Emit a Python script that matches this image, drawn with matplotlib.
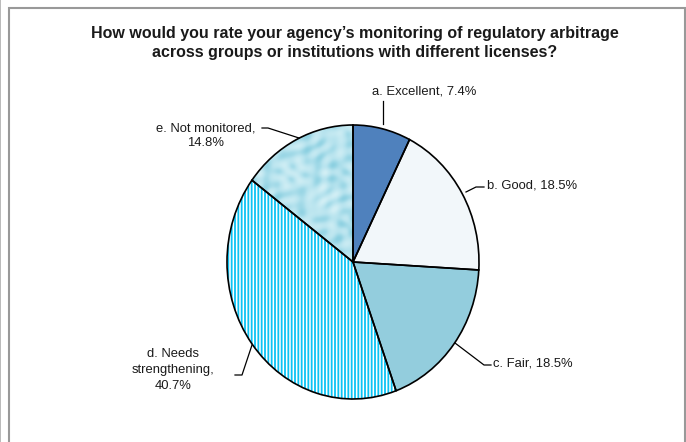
import numpy as np
import matplotlib.pyplot as plt
from matplotlib.patches import Rectangle
from matplotlib.colors import LinearSegmentedColormap

plt.rcParams['font.family'] = ['Liberation Sans', 'DejaVu Sans']
plt.rcParams['hatch.linewidth'] = 1.3

title = ("How would you rate your agency\u2019s monitoring of regulatory arbitrage\n"
         "across groups or institutions with different licenses?")
categories = ['a. Excellent', 'b. Good', 'c. Fair', 'd. Needs\nstrengthening',
              'e. Not monitored']
shares = [7.4, 18.5, 18.5, 40.7, 14.8]
colors = ['#4F81BD', '#F2F7FA', '#93CDDD', '#FFFFFF', '#B9E5EF']

W, H = 686, 442
fig = plt.figure(figsize=(W / 100, H / 100), dpi=100)

# pie box in pixels: centre (353, 262), radii 126 x 137
cx, cy, rx, ry = 353, 262, 126, 137
ax = fig.add_axes([(cx - rx) / W, (H - cy - ry) / H, 2 * rx / W, 2 * ry / H])
ax.axis('off')

wedges, _ = ax.pie(shares, colors=colors, startangle=90, counterclock=False,
                   radius=1, wedgeprops=dict(linewidth=0))

# vertical stripes for "needs strengthening"
wd = wedges[3]
wd.set_facecolor('white')
wd.set_edgecolor('#0BC3F3')
wd.set_hatch('|' * 5)
wd.set_linewidth(0)

# bubbly texture for "not monitored"
xs = np.linspace(-1, 1, 300)
X, Y = np.meshgrid(xs, xs)
tex = (np.sin(X * 23 + np.cos(Y * 17) * 2.0) * np.cos(Y * 29 + np.sin(X * 13) * 1.7)
       + 0.6 * np.sin(X * 41 - Y * 37) * np.cos(X * 19 + Y * 31))
tex = np.clip(tex, -1.5, 1.5)
cmap = LinearSegmentedColormap.from_list('water', ['#8CD0E1', '#B6E3EE', '#D2EFF5'])
img = ax.imshow(tex, extent=(-1, 1, -1, 1), cmap=cmap, origin='lower',
                interpolation='bilinear', aspect='auto', zorder=1.5)
img.set_clip_path(wedges[4])

# outlines on top
outline, _ = ax.pie(shares, colors=['none'] * 5, startangle=90, counterclock=False,
                    radius=1, wedgeprops=dict(linewidth=1.2, edgecolor='black',
                                              fill=False, zorder=3))
ax.set_xlim(-1, 1)
ax.set_ylim(-1, 1)
ax.set_aspect('auto')


def px(x, y):
    return (x - cx) / rx, (cy - y) / ry


def leader(points):
    pts = [px(x, y) for x, y in points]
    ax.plot([p[0] for p in pts], [p[1] for p in pts], color='black', lw=0.9,
            clip_on=False, zorder=4)


labels = [f'{c}, {v}%' for c, v in zip(categories, shares)]
fs = 9.4
tc = '#1a1a1a'

leader([(383, 124), (383, 101)])
ax.text(*px(372, 92), labels[0], fontsize=fs, ha='left', va='center', color=tc)

leader([(466, 192), (476, 187), (484, 187)])
ax.text(*px(487, 185), labels[1], fontsize=fs, ha='left', va='center', color=tc)

leader([(455, 343), (484, 365), (491, 365)])
ax.text(*px(493, 364), labels[2], fontsize=fs, ha='left', va='center', color=tc)

leader([(252, 345), (242, 375), (235, 375)])
ax.text(*px(173, 370), labels[3].replace(', ', ',\n'), fontsize=fs,
        ha='center', va='center', linespacing=1.45, color=tc)

leader([(299, 138), (268, 128), (262, 128)])
ax.text(*px(206, 136), labels[4].replace(', ', ',\n'), fontsize=fs,
        ha='center', va='center', linespacing=1.3, color=tc)

fig.text(355 / W, 1 - 43 / H, title, ha='center', va='center', fontsize=11.5,
         fontweight='bold', linespacing=1.3, color=tc)

# chart frame
fig.patches.append(Rectangle((9 / W, -0.01), (685 - 9) / W, 1 - 8 / H + 0.01,
                             transform=fig.transFigure, fill=False,
                             edgecolor='#999999', linewidth=1.5))
fig.patches.append(Rectangle((0, 0), 1.2 / W, 1, transform=fig.transFigure,
                             facecolor='#BBBBBB', edgecolor='none'))

fig.savefig('out.png', dpi=100)
